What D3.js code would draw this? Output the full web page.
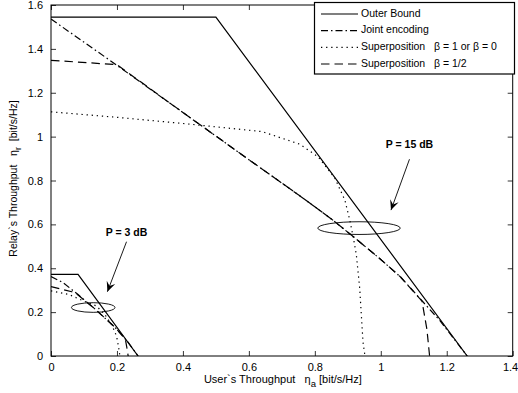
<!DOCTYPE html>
<html><head><meta charset="utf-8">
<script src="https://cdn.jsdelivr.net/npm/d3@7"></script>
<style>
html,body{margin:0;padding:0;background:#fff;}
svg{display:block;font-family:"Liberation Sans",Arial,sans-serif;}
text{white-space:pre;}
</style></head>
<body>
<svg id="chart" width="518" height="393"></svg>
<script>
// ---- data ----
const xTicks = [0, 0.2, 0.4, 0.6, 0.8, 1, 1.2, 1.4];
const yTicks = [0, 0.2, 0.4, 0.6, 0.8, 1, 1.2, 1.4, 1.6];
const xTickLabels = ["0", "0.2", "0.4", "0.6", "0.8", "1", "1.2", "1.4"];
const yTickLabels = ["0", "0.2", "0.4", "0.6", "0.8", "1", "1.2", "1.4", "1.6"];

const seriesNames = ["Outer Bound", "Joint encoding", "Superposition   \u03b2 = 1 or \u03b2 = 0", "Superposition   \u03b2 = 1/2"];

// P = 15 dB
const outer15X = [0, 0.5, 1.262];
const outer15Y = [1.545, 1.545, 0];
const joint15X = [0, 0.2, 0.4, 0.6, 0.75, 0.85, 0.92, 1.0, 1.06, 1.12, 1.18, 1.262];
const joint15Y = [1.536, 1.325, 1.11, 0.895, 0.735, 0.625, 0.54, 0.44, 0.36, 0.26, 0.16, 0];
const sup15X = [0, 0.2, 0.4, 0.64, 0.755, 0.81, 0.861, 0.891, 0.906, 0.918, 0.926, 0.936, 0.946, 0.952];
const sup15Y = [1.113, 1.088, 1.06, 1.023, 0.965, 0.908, 0.81, 0.711, 0.62, 0.53, 0.46, 0.31, 0.065, 0];
const half15X = [0, 0.2, 0.4, 0.6, 0.75, 0.85, 0.92, 1.0, 1.06, 1.125, 1.14, 1.148];
const half15Y = [1.348, 1.328, 1.11, 0.895, 0.735, 0.625, 0.54, 0.44, 0.36, 0.25, 0.12, 0];

// P = 3 dB
const outer3X = [0, 0.082, 0.264];
const outer3Y = [0.372, 0.372, 0];
const joint3X = [0, 0.036, 0.082, 0.132, 0.193, 0.233, 0.264];
const joint3Y = [0.362, 0.335, 0.28, 0.216, 0.132, 0.064, 0];
const sup3X = [0, 0.055, 0.10, 0.138, 0.165, 0.185, 0.199, 0.205, 0.209];
const sup3Y = [0.297, 0.28, 0.25, 0.228, 0.185, 0.14, 0.09, 0.04, 0];
const half3X = [0, 0.063, 0.082, 0.132, 0.193, 0.225, 0.231, 0.234];
const half3Y = [0.316, 0.293, 0.278, 0.216, 0.132, 0.08, 0.03, 0];

// annotations (data coordinates)
const annLabels = ["P = 15 dB", "P = 3 dB"];
const annLabelPos = [[1.087, 0.962], [0.229, 0.559]];
const annArrowFrom = [[1.087, 0.897], [0.229, 0.521]];
const annArrowTo = [[1.031, 0.665], [0.171, 0.293]];
const ellipseCenter = [[0.934, 0.583], [0.128, 0.221]];
const ellipseRadius = [[0.125, 0.029], [0.066, 0.022]];

// ---- layout ----
const svg = d3.select("#chart");
const L = 51, R = 512.7, T = 5, B = 356;
const x = d3.scaleLinear().domain([0, 1.4]).range([L, R]);
const y = d3.scaleLinear().domain([0, 1.6]).range([B, T]);

const styles = [
  {dash: null},
  {dash: "7,3,1.5,3"},
  {dash: "1.3,3.8"},
  {dash: "8.5,5"}
];

const g = svg.append("g");
g.append("rect").attr("x", L).attr("y", T).attr("width", R - L).attr("height", B - T).attr("fill", "#fff");

// axes (inside ticks, box)
const tickLen = 5;
const axB = d3.axisBottom(x).tickValues(xTicks).tickFormat((d, i) => xTickLabels[i]).tickSizeInner(-tickLen).tickSizeOuter(0).tickPadding(7);
const axT = d3.axisTop(x).tickValues(xTicks).tickFormat("").tickSizeInner(-tickLen).tickSizeOuter(0);
const axL = d3.axisLeft(y).tickValues(yTicks).tickFormat((d, i) => yTickLabels[i]).tickSizeInner(-tickLen).tickSizeOuter(0).tickPadding(8);
const axR = d3.axisRight(y).tickValues(yTicks).tickFormat("").tickSizeInner(-tickLen).tickSizeOuter(0);

function styleAxis(sel) {
  sel.select(".domain").remove();
  sel.selectAll("line").attr("stroke", "#000").attr("stroke-width", 0.8);
  sel.selectAll("text").attr("fill", "#000").attr("font-size", "11px").attr("font-family", "Liberation Sans, Arial, sans-serif");
}
const gxB = g.append("g").attr("transform", `translate(0,${B})`).call(axB).call(styleAxis);
// keep the last x label inside the picture
gxB.selectAll(".tick text").filter(d => d === 1.4).attr("text-anchor", "end").attr("dx", 5);
g.append("g").attr("transform", `translate(0,${T})`).call(axT).call(styleAxis);
g.append("g").attr("transform", `translate(${L},0)`).call(axL).call(styleAxis);
g.append("g").attr("transform", `translate(${R},0)`).call(axR).call(styleAxis);

// curves
const line = d3.line().x(d => x(d[0])).y(d => y(d[1]));
const zip = (a, b) => a.map((v, i) => [v, b[i]]);
const curves = [
  [outer15X, outer15Y, 0], [joint15X, joint15Y, 1], [sup15X, sup15Y, 2], [half15X, half15Y, 3],
  [outer3X, outer3Y, 0], [joint3X, joint3Y, 1], [sup3X, sup3Y, 2], [half3X, half3Y, 3]
];
svg.append("clipPath").attr("id", "clip").append("rect")
  .attr("x", L).attr("y", T).attr("width", R - L).attr("height", B - T);
const cg = g.append("g").attr("clip-path", "url(#clip)");
curves.forEach(c => {
  cg.append("path").attr("d", line(zip(c[0], c[1])))
    .attr("fill", "none").attr("stroke", "#000").attr("stroke-width", 1.2)
    .attr("stroke-dasharray", styles[c[2]].dash);
});

// box
g.append("rect").attr("x", L).attr("y", T).attr("width", R - L).attr("height", B - T)
  .attr("fill", "none").attr("stroke", "#000").attr("stroke-width", 1);

// ellipses
ellipseCenter.forEach((c, i) => {
  g.append("ellipse").attr("cx", x(c[0])).attr("cy", y(c[1]))
    .attr("rx", x(ellipseRadius[i][0]) - x(0)).attr("ry", y(0) - y(ellipseRadius[i][1]))
    .attr("fill", "none").attr("stroke", "#000").attr("stroke-width", 0.9);
});

// arrows
annArrowFrom.forEach((f, i) => {
  const x1 = x(f[0]), y1 = y(f[1]), x2 = x(annArrowTo[i][0]), y2 = y(annArrowTo[i][1]);
  g.append("line").attr("x1", x1).attr("y1", y1).attr("x2", x2).attr("y2", y2)
    .attr("stroke", "#000").attr("stroke-width", 0.9);
  const ang = Math.atan2(y2 - y1, x2 - x1);
  const hl = 10, hw = 4.5, notch = 6;
  const ux = Math.cos(ang), uy = Math.sin(ang), px = -uy, py = ux;
  const pts = [
    [x2, y2],
    [x2 - ux * hl + px * hw, y2 - uy * hl + py * hw],
    [x2 - ux * notch, y2 - uy * notch],
    [x2 - ux * hl - px * hw, y2 - uy * hl - py * hw]
  ];
  g.append("path").attr("d", "M" + pts.map(p => p.join(",")).join("L") + "Z").attr("fill", "#000");
  g.append("text").attr("x", x(annLabelPos[i][0])).attr("y", y(annLabelPos[i][1]))
    .attr("text-anchor", "middle").attr("dominant-baseline", "middle")
    .attr("font-size", "10.5px").attr("font-weight", "bold").text(annLabels[i]);
});

// axis titles
const xt = g.append("text").attr("x", (L + R) / 2 + 1).attr("y", 383).attr("text-anchor", "middle").attr("font-size", "11px");
xt.append("tspan").text("User`s Throughput   \u03b7");
xt.append("tspan").attr("dy", 4).attr("font-size", "9.5px").text("a");
xt.append("tspan").attr("dy", -4).text(" [bit/s/Hz]");

const yt = g.append("text").attr("transform", `translate(17,${(T + B) / 2 - 2}) rotate(-90)`).attr("text-anchor", "middle").attr("font-size", "10.5px");
yt.append("tspan").text("Relay`s Throughput   \u03b7");
yt.append("tspan").attr("dy", 4).attr("font-size", "9px").text("r");
yt.append("tspan").attr("dy", -4).text("  [bit/s/Hz]");

// legend
const lg = g.append("g");
lg.append("rect").attr("x", 314.5).attr("y", 2.5).attr("width", 200).attr("height", 71.5)
  .attr("fill", "#fff").attr("stroke", "#000").attr("stroke-width", 1.2);
const rowsY = [14, 30.7, 47.3, 64];
seriesNames.forEach((n, i) => {
  lg.append("line").attr("x1", 321).attr("x2", 358).attr("y1", rowsY[i]).attr("y2", rowsY[i])
    .attr("stroke", "#000").attr("stroke-width", 1.2).attr("stroke-dasharray", styles[i].dash);
  lg.append("text").attr("x", 361).attr("y", rowsY[i]).attr("dominant-baseline", "middle")
    .attr("font-size", "10.5px").text(n);
});
</script>
</body></html>
